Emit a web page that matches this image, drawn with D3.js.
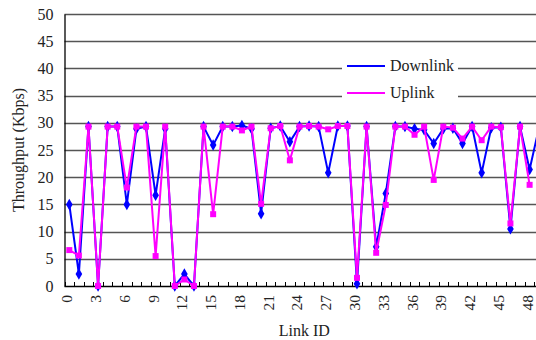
<!DOCTYPE html>
<html>
<head>
<meta charset="utf-8">
<script src="https://cdn.jsdelivr.net/npm/d3@7"></script>
<style>
  html, body { margin: 0; padding: 0; background: #fff; }
  svg { display: block; overflow: hidden; }
  text { font-family: "Liberation Serif", "DejaVu Serif", serif; fill: #222; }
</style>
</head>
<body>
<svg id="chart" width="536" height="340"></svg>
<script>
const linkIds = d3.range(0, 50);
const downlink = [15.0, 2.2, 29.3, 0, 29.3, 29.3, 15.0, 28.9, 29.3, 16.7,
                  28.9, 0, 2.2, 0, 29.3, 25.9, 29.3, 29.3, 29.5, 28.9,
                  13.3, 29.0, 29.4, 26.5, 29.3, 29.4, 29.3, 20.8, 29.4, 29.4,
                  0.4, 29.3, 7.2, 17.0, 29.3, 29.3, 28.9, 28.7, 26.2, 28.9,
                  29.0, 26.2, 29.3, 20.8, 29.1, 29.2, 10.5, 29.3, 21.4, 29.3];
const uplink = [6.6, 5.6, 29.3, 0, 29.3, 29.3, 18.1, 29.3, 29.3, 5.5,
                29.3, 0, 1.2, 0, 29.3, 13.2, 29.3, 29.3, 28.6, 29.3,
                15.1, 29.0, 29.4, 23.1, 29.3, 29.4, 29.3, 28.8, 29.4, 29.4,
                1.5, 29.3, 6.1, 14.9, 29.3, 29.3, 27.8, 29.3, 19.5, 29.3,
                29.1, 27.1, 29.3, 26.8, 29.3, 29.2, 11.5, 29.3, 18.6];
const yTicks = [0, 5, 10, 15, 20, 25, 30, 35, 40, 45, 50];
const xTickLabels = d3.range(0, 49, 3);
const seriesNames = ["Downlink", "Uplink"];

const svg = d3.select("#chart");
const mLeft = 64.5, step = 9.59, mTop = 14, mBottom = 286;
const mRight = mLeft + step * linkIds.length;

const x = d3.scaleBand().domain(linkIds).range([mLeft, mRight]).padding(0);
const cx = i => x(i) + x.bandwidth() / 2;
const y = d3.scaleLinear().domain([0, 50]).range([mBottom, mTop]);

// gridlines
svg.append("g").selectAll("line").data(yTicks.filter(d => d > 0)).join("line")
  .attr("x1", mLeft).attr("x2", 536)
  .attr("y1", d => Math.round(y(d)) + 0.5).attr("y2", d => Math.round(y(d)) + 0.5)
  .attr("stroke", "#555").attr("stroke-width", 1.3);

// legend background
svg.append("rect").attr("x", 342).attr("y", 56).attr("width", 116).attr("height", 49)
  .attr("fill", "#fff");

// y axis
const yAxis = svg.append("g").attr("transform", `translate(${mLeft},0)`)
  .call(d3.axisLeft(y).tickValues(yTicks).tickSize(0).tickPadding(11));
yAxis.select(".domain").attr("stroke", "#000").attr("stroke-width", 1.3);
yAxis.selectAll("text").attr("font-size", 16).attr("fill", "#222")
  .attr("font-family", "Liberation Serif");

// x axis line and ticks
svg.append("line").attr("x1", mLeft).attr("x2", 536)
  .attr("y1", mBottom + 0.5).attr("y2", mBottom + 0.5)
  .attr("stroke", "#000").attr("stroke-width", 1.5);
svg.append("g").selectAll("line").data(linkIds.concat([linkIds.length])).join("line")
  .attr("x1", i => Math.round(mLeft + i * step) + 0.5)
  .attr("x2", i => Math.round(mLeft + i * step) + 0.5)
  .attr("y1", mBottom - 4).attr("y2", mBottom)
  .attr("stroke", "#000").attr("stroke-width", 1);

// x tick labels (rotated)
svg.append("g").selectAll("text").data(xTickLabels).join("text")
  .attr("transform", d => `translate(${cx(d) + 3},${mBottom + 9}) rotate(-90)`)
  .attr("text-anchor", "end")
  .attr("font-size", 15.5)
  .text(d => d);

// axis titles
svg.append("text")
  .attr("transform", `translate(24,150) rotate(-90)`)
  .attr("text-anchor", "middle").attr("font-size", 16)
  .text("Throughput (Kbps)");
svg.append("text")
  .attr("x", (mLeft + mRight) / 2).attr("y", 336)
  .attr("text-anchor", "middle").attr("font-size", 16)
  .text("Link ID");

// series
const line = d3.line().x((d, i) => cx(i)).y(d => y(d));
const diamond = d3.symbol().type(d3.symbolDiamond).size(38);
const square = d3.symbol().type(d3.symbolSquare).size(36);

function drawSeries(data, color, sym) {
  svg.append("path").datum(data).attr("d", line)
    .attr("fill", "none").attr("stroke", color).attr("stroke-width", 2);
  svg.append("g").selectAll("path").data(data).join("path")
    .attr("transform", (d, i) => `translate(${cx(i)},${y(d)})`)
    .attr("d", sym).attr("fill", color);
}
drawSeries(downlink, "#0000ff", diamond);
drawSeries(uplink, "#ff00ff", square);

// legend
const legend = [
  { name: seriesNames[0], color: "#0000ff", sym: diamond, y: 66 },
  { name: seriesNames[1], color: "#ff00ff", sym: square, y: 93 }
];
const lg = svg.append("g").selectAll("g").data(legend).join("g");
lg.append("line").attr("x1", 347).attr("x2", 385)
  .attr("y1", d => d.y).attr("y2", d => d.y)
  .attr("stroke", d => d.color).attr("stroke-width", 2);
lg.append("path").attr("transform", d => `translate(366,${d.y})`)
  .attr("d", d => d.sym).attr("fill", d => d.color);
lg.append("text").attr("x", 390).attr("y", d => d.y + 5)
  .attr("font-size", 16).text(d => d.name);
</script>
</body>
</html>
